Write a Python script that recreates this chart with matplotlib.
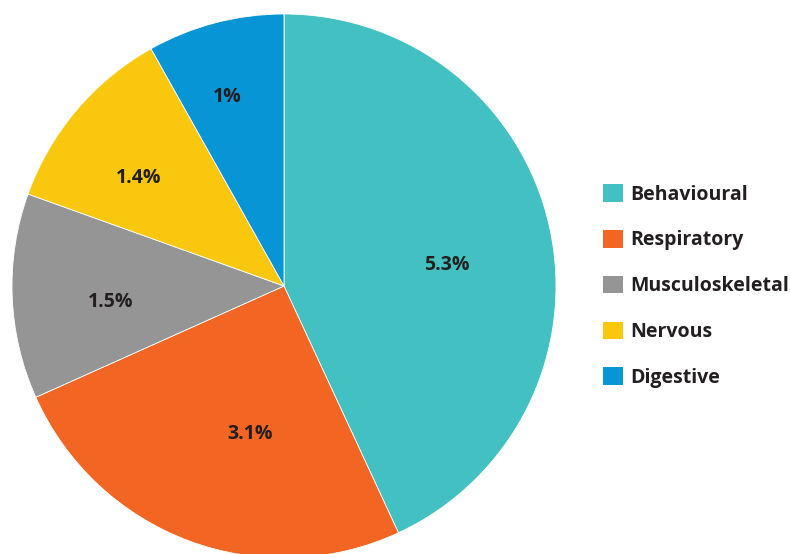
import numpy as np
import matplotlib
matplotlib.use("Agg")
import matplotlib.pyplot as plt
from matplotlib.patches import Patch

# donnees
categories = ["Behavioural", "Respiratory", "Musculoskeletal", "Nervous", "Digestive"]
values = [5.3, 3.1, 1.5, 1.4, 1.0]
value_labels = ["5.3%", "3.1%", "1.5%", "1.4%", "1%"]

COLORS = ["#42C0C2", "#F26522", "#959595", "#F9C80E", "#0795D6"]
TEXT_COLOR = "#231F20"
# placement des etiquettes (style "meilleur ajustement" du graphique d'origine)
LABEL_R = [0.605, 0.56, 0.64, 0.665, 0.725]
LABEL_DANG = [-5, 7.5, 3, 3.5, 2]

plt.rcParams["font.family"] = ["Open Sans", "DejaVu Sans"]

fig = plt.figure(figsize=(7.9, 5.54), dpi=100)
W, H = 790, 554
cx_px, cy_px, r_px = 284, 286, 272
ax = fig.add_axes([(cx_px - r_px) / W, (H - cy_px - r_px) / H, 2 * r_px / W, 2 * r_px / H])

wedges, _ = ax.pie(values, colors=COLORS, startangle=90, counterclock=False,
                   radius=1, wedgeprops=dict(edgecolor="white", linewidth=0.6))
ax.set_xlim(-1, 1)
ax.set_ylim(-1, 1)
ax.set_aspect("equal")
ax.axis("off")

for w, lab, r, da in zip(wedges, value_labels, LABEL_R, LABEL_DANG):
    ang = np.deg2rad((w.theta1 + w.theta2) / 2 + da)
    ax.text(r * np.cos(ang), r * np.sin(ang), lab, ha="center", va="center",
            fontsize=14, fontweight="bold", color=TEXT_COLOR)

handles = [Patch(facecolor=c, edgecolor="none") for c in COLORS]
fig.legend(handles, categories, loc="center left", bbox_to_anchor=(603 / W, 1 - 286 / H),
           frameon=False, prop=dict(weight="bold", size=14),
           handlelength=1.02, handleheight=1.02, handletextpad=0.4,
           labelspacing=1.3, borderpad=0, borderaxespad=0, labelcolor=TEXT_COLOR)

fig.savefig("out.png", dpi=100)
